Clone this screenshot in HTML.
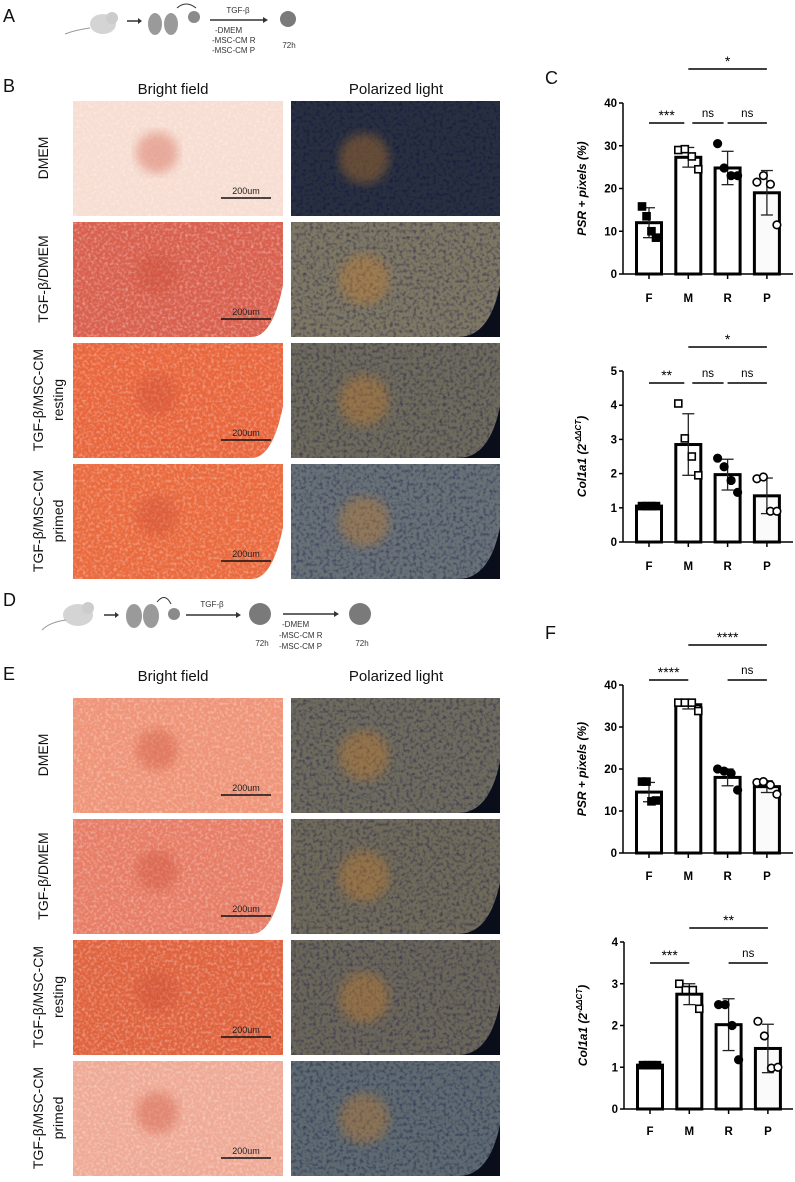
<!DOCTYPE html>
<html><head><meta charset="utf-8">
<style>
html,body{margin:0;padding:0;background:#fff;}
svg{display:block;font-family:"Liberation Sans",Arial,sans-serif;}
</style></head>
<body>
<svg id="fig" width="795" height="1182" viewBox="0 0 795 1182" xmlns="http://www.w3.org/2000/svg">
<defs>
 <filter id="noise" x="0" y="0" width="100%" height="100%">
  <feTurbulence type="fractalNoise" baseFrequency="0.35" numOctaves="2" seed="3"/>
  <feColorMatrix type="matrix" values="0 0 0 0 1  0 0 0 0 1  0 0 0 0 1  0 0 0 1.6 -0.7"/>
 </filter>
 <filter id="noiseD" x="0" y="0" width="100%" height="100%">
  <feTurbulence type="fractalNoise" baseFrequency="0.3" numOctaves="2" seed="7"/>
  <feColorMatrix type="matrix" values="0 0 0 0 0  0 0 0 0 0  0 0 0 0 0.05  0 0 0 1.8 -0.8"/>
 </filter>
 <filter id="blur"><feGaussianBlur stdDeviation="5"/></filter>
</defs>

<g font-size="18" fill="#111">
 <text x="3" y="22">A</text>
 <text x="3" y="92">B</text>
 <text x="545" y="84">C</text>
 <text x="3" y="606">D</text>
 <text x="3" y="680">E</text>
 <text x="545" y="639">F</text>
</g>

<g id="schemA">
 <ellipse cx="103" cy="24" rx="13" ry="10" fill="#d4d4d4"/>
 <circle cx="112" cy="18" r="6" fill="#ccc"/>
 <path d="M90 28 Q75 30 65 34" stroke="#999" fill="none"/>
 <path d="M127 21 L140 21" stroke="#333" stroke-width="1.5"/><path d="M138 18 L142 21 L138 24Z" fill="#333"/>
 <ellipse cx="155" cy="24" rx="7" ry="11" fill="#9a9a9a"/>
 <ellipse cx="171" cy="24" rx="7" ry="11" fill="#9a9a9a"/>
 <circle cx="194" cy="17" r="6" fill="#8a8a8a"/>
 <path d="M177 8 Q186 0 196 8" stroke="#333" fill="none"/>
 <text x="238" y="13" font-size="8" fill="#333" text-anchor="middle">TGF-β</text>
 <path d="M210 20 L265 20" stroke="#333" stroke-width="1.5"/><path d="M263 17 L268 20 L263 23Z" fill="#333"/>
 <text x="215" y="33" font-size="8" fill="#333">-DMEM</text>
 <text x="212" y="43" font-size="8" fill="#333">-MSC-CM R</text>
 <text x="212" y="53" font-size="8" fill="#333">-MSC-CM P</text>
 <circle cx="288" cy="19" r="8" fill="#7a7a7a"/>
 <text x="289" y="48" font-size="8" fill="#333" text-anchor="middle">72h</text>
</g>

<g>
 <ellipse cx="78" cy="615" rx="15" ry="11" fill="#d4d4d4"/>
 <circle cx="88" cy="608" r="6" fill="#ccc"/>
 <path d="M66 620 Q50 622 42 630" stroke="#999" fill="none"/>
 <path d="M104 615 L117 615" stroke="#333" stroke-width="1.5"/><path d="M115 612 L119 615 L115 618Z" fill="#333"/>
 <ellipse cx="134" cy="616" rx="8" ry="12" fill="#9a9a9a"/>
 <ellipse cx="151" cy="616" rx="8" ry="12" fill="#9a9a9a"/>
 <circle cx="174" cy="614" r="6" fill="#8a8a8a"/>
 <path d="M157 602 Q165 592 171 604" stroke="#333" fill="none"/>
 <text x="212" y="607" font-size="8" fill="#333" text-anchor="middle">TGF-β</text>
 <path d="M186 615 L238 615" stroke="#333" stroke-width="1.5"/><path d="M236 612 L241 615 L236 618Z" fill="#333"/>
 <circle cx="260" cy="614" r="11" fill="#7a7a7a"/>
 <text x="262" y="646" font-size="8" fill="#333" text-anchor="middle">72h</text>
 <path d="M283 614 L336 614" stroke="#333" stroke-width="1.5"/><path d="M334 611 L339 614 L334 617Z" fill="#333"/>
 <text x="282" y="627" font-size="8" fill="#333">-DMEM</text>
 <text x="279" y="638" font-size="8" fill="#333">-MSC-CM R</text>
 <text x="279" y="649" font-size="8" fill="#333">-MSC-CM P</text>
 <circle cx="360" cy="614" r="11" fill="#7a7a7a"/>
 <text x="362" y="646" font-size="8" fill="#333" text-anchor="middle">72h</text>
</g>

<g font-size="15" fill="#111" text-anchor="middle">
 <text x="173" y="94">Bright field</text>
 <text x="396" y="94">Polarized light</text>
 <text x="173" y="681">Bright field</text>
 <text x="396" y="681">Polarized light</text>
</g>

<g id="images"></g>
<g id="charts"></g>
</svg>

<script>
var NS = "http://www.w3.org/2000/svg";
function mk(tag, attrs, parent){ var e=document.createElementNS(NS,tag); for (var k in attrs) e.setAttribute(k, attrs[k]); parent.appendChild(e); return e; }

var categories = ["F","M","R","P"];
var c1Means = [12, 27.3, 24.8, 19];
var c1Sd = [3.5, 2.3, 3.9, 5.2];
var c1Points = [[15.8,13.5,10,8.5],[29,29.2,27.5,24.5],[30.5,24.8,23,23],[21.5,23,21,11.5]];
var c1Ticks = [0,10,20,30,40];
var c2Means = [1.05, 2.85, 1.97, 1.35];
var c2Sd = [0.05, 0.9, 0.45, 0.52];
var c2Points = [[1.05,1.05,1.05,1.05],[4.05,3.03,2.5,1.95],[2.45,2.2,1.8,1.45],[1.85,1.9,0.9,0.9]];
var c2Ticks = [0,1,2,3,4,5];
var f1Means = [14.5, 35.3, 18, 15.8];
var f1Sd = [2.3, 1.0, 2.0, 1.4];
var f1Points = [[17,17,12.3,12.5],[35.8,35.8,35.8,33.8],[20,19.5,19,15],[16.8,17,16.2,14]];
var f1Ticks = [0,10,20,30,40];
var f2Means = [1.05, 2.75, 2.02, 1.45];
var f2Sd = [0.05, 0.25, 0.62, 0.58];
var f2Points = [[1.05,1.05,1.05,1.05],[3.0,2.85,2.85,2.4],[2.5,2.5,2.0,1.18],[2.1,1.75,0.98,1.0]];
var f2Ticks = [0,1,2,3,4];
var c1Sig = [["M","P","*"],["F","M","***"],["M","R","ns"],["R","P","ns"]];
var c2Sig = [["M","P","*"],["F","M","**"],["M","R","ns"],["R","P","ns"]];
var f1Sig = [["M","P","****"],["F","M","****"],["R","P","ns"]];
var f2Sig = [["M","P","**"],["F","M","***"],["R","P","ns"]];

var markerKind = ["sq-fill","sq-open","ci-fill","ci-open"];
var jitter = [-10,-3.5,3.5,10];

function drawChart(o){
  var root = document.getElementById("charts");
  var g = mk("g",{},root);
  
  
  var axX = o.axX, y0 = o.y0, yTop = o.yTop, vmax = o.ticks[o.ticks.length-1];
  function Y(v){ return y0 - (v/vmax)*(y0-yTop); }
  function X(i){ return axX + 26 + i*39.3; }
  for (var i=0;i<categories.length;i++){
    var b = mk("rect",{x:X(i)-12.5,y:Y(o.means[i]),width:25,height:y0-Y(o.means[i]),fill:i==3?"#fafafa":"#fff",stroke:"#000","stroke-width":3},g);
    
    
  }
  for (var i=0;i<categories.length;i++){
    var e = mk("g",{stroke:"#222","stroke-width":1.3},g);
    
    
    var hi=Y(o.means[i]+o.sd[i]), lo=Y(o.means[i]-o.sd[i]);
    mk("line",{x1:X(i),x2:X(i),y1:hi,y2:lo},e);
    mk("line",{x1:X(i)-6,x2:X(i)+6,y1:hi,y2:hi},e);
    mk("line",{x1:X(i)-6,x2:X(i)+6,y1:lo,y2:lo},e);
  }
  for (var i=0;i<categories.length;i++){
    for (var j=0;j<o.points[i].length;j++){
      var px = X(i)+jitter[j]*(i==0?0.7:1), py = Y(o.points[i][j]), k = markerKind[i], p;
      if (k[0]=="s") p = mk("rect",{x:px-3.5,y:py-3.5,width:7,height:7,fill:k=="sq-fill"?"#000":"#fff",stroke:"#000","stroke-width":1.6},g);
      else p = mk("circle",{cx:px,cy:py,r:3.8,fill:k=="ci-fill"?"#000":"#fff",stroke:"#000","stroke-width":1.6},g);
      
      
    }
  }
  var ax = mk("g",{stroke:"#000","stroke-width":1.5,fill:"none"},g);
  
  
  mk("line",{x1:axX,x2:axX,y1:yTop,y2:y0},ax);
  mk("line",{x1:axX,x2:793,y1:y0,y2:y0},ax);
  for (var t=0;t<o.ticks.length;t++){
    mk("line",{x1:axX-4,x2:axX,y1:Y(o.ticks[t]),y2:Y(o.ticks[t])},ax);
    var tl = mk("text",{x:axX-6,y:Y(o.ticks[t])+4,"font-size":11.5,"font-weight":"bold","text-anchor":"end",fill:"#000",stroke:"none"},g);
    tl.textContent = o.ticks[t];
    
    
  }
  for (var i=0;i<categories.length;i++){
    mk("line",{x1:X(i),x2:X(i),y1:y0,y2:y0+5},ax);
    var cl = mk("text",{x:X(i),y:o.labY,"font-size":11.5,"font-weight":"bold","text-anchor":"middle",fill:"#000"},g);
    cl.textContent = categories[i];
    
    
  }
  var ty = (y0+yTop)/2, tt = mk("text",{x:0,y:0,"font-size":12,"font-weight":"bold","font-style":"italic","text-anchor":"middle",transform:"translate("+(axX-37)+","+ty+") rotate(-90)"},g);
  
  
  if (o.col){
    tt.appendChild(document.createTextNode("Col1a1 (2"));
    var sup = mk("tspan",{"font-size":8,dy:-5},tt); sup.textContent="-ΔΔCT";
    var cl2 = mk("tspan",{dy:5},tt); cl2.textContent=")";
  } else tt.textContent = "PSR + pixels (%)";
  for (var s=0;s<o.sig.length;s++){
    var a=categories.indexOf(o.sig[s][0]), b=categories.indexOf(o.sig[s][1]);
    var top = s==0, ly = top ? o.sigTop : o.sigRow;
    var xa = X(a)+(top?0:(a==1 && o.sig.length==4 ? 4:0)), xb = X(b)-(top?0:(o.sig.length==4 && (b==1||b==2)?4:0));
    var sg = mk("g",{},g);
    
    
    mk("line",{x1:xa,x2:xb,y1:ly,y2:ly,stroke:"#000","stroke-width":1.6},sg);
    var st = mk("text",{x:(xa+xb)/2,y:ly-(o.sig[s][2]=="ns"?6:3),"font-size":o.sig[s][2]=="ns"?11.5:14,"text-anchor":"middle",fill:"#000"},sg);
    st.textContent = o.sig[s][2];
  }
}
drawChart({name:"chart-c-psr",axX:623,y0:274,yTop:103,ticks:c1Ticks,means:c1Means,sd:c1Sd,points:c1Points,labY:302,sig:c1Sig,sigTop:69,sigRow:123});
drawChart({name:"chart-c-col1a1",axX:623,y0:542,yTop:371,ticks:c2Ticks,means:c2Means,sd:c2Sd,points:c2Points,labY:570,sig:c2Sig,sigTop:347,sigRow:383,col:true});
drawChart({name:"chart-f-psr",axX:623,y0:853,yTop:685,ticks:f1Ticks,means:f1Means,sd:f1Sd,points:f1Points,labY:880,sig:f1Sig,sigTop:645,sigRow:680});
drawChart({name:"chart-f-col1a1",axX:624,y0:1109,yTop:942,ticks:f2Ticks,means:f2Means,sd:f2Sd,points:f2Points,labY:1135,sig:f2Sig,sigTop:928,sigRow:963,col:true});

var imgG = document.getElementById("images");
var rowNames = [["DMEM"],["TGF-β/DMEM"],["TGF-β/MSC-CM","resting"],["TGF-β/MSC-CM","primed"]];
var bfColors = ["#f7ddd2","#d9604e","#e9663d","#ea6a3e","#ef9478","#e77d66","#e0633f","#efaa96"];
var plColors = ["#283040","#7d7764","#6e6a5c","#687176","#6e6b5e","#6f6a5a","#6b665a","#5e6a70"];
function panel(x,y,w,h,color,dark,idx,kind){
  var g = mk("g",{},imgG);
  
  
  mk("rect",{x:x,y:y,width:w,height:h,fill:color},g);
  mk("rect",{x:x,y:y,width:w,height:h,filter:dark?"url(#noiseD)":"url(#noise)",opacity:0.55},g);
  if (!dark){
    mk("ellipse",{cx:x+w*0.4,cy:y+h*0.45,rx:w*0.1,ry:h*0.18,fill:"#c94a30",opacity:0.35,filter:"url(#blur)"},g);
    if (idx==1||idx==2||idx==3||idx==5) mk("path",{d:"M"+(x+w)+" "+(y+h*0.55)+" Q"+(x+w*0.95)+" "+(y+h)+" "+(x+w*0.85)+" "+(y+h)+" L"+(x+w)+" "+(y+h)+"Z",fill:"#fff"},g);
    var sb = mk("g",{},g);
    
    
    mk("line",{x1:x+w-62,x2:x+w-12,y1:y+h-18,y2:y+h-18,stroke:"#111","stroke-width":1.5},sb);
    var t = mk("text",{x:x+w-37,y:y+h-22,"font-size":9,"text-anchor":"middle",fill:"#222"},sb);
    t.textContent = "200um";
  } else {
    mk("ellipse",{cx:x+w*0.35,cy:y+h*0.5,rx:w*0.12,ry:h*0.22,fill:"#d8862a",opacity:0.35,filter:"url(#blur)"},g);
    if (idx!=0) mk("path",{d:"M"+(x+w)+" "+(y+h*0.55)+" Q"+(x+w*0.95)+" "+(y+h)+" "+(x+w*0.8)+" "+(y+h)+" L"+(x+w)+" "+(y+h)+"Z",fill:"#0a0e1a"},g);
  }
}
var tops = [101,222,343,464,698,819,940,1061];
for (var r=0;r<8;r++){
  panel(73,tops[r],210,115,bfColors[r],false,r,"bright-field");
  panel(291,tops[r],209,115,plColors[r],true,r,"polarized");
  var nm = rowNames[r%4], cy = tops[r]+57;
  for (var l=0;l<nm.length;l++){
    var lx = nm.length==1 ? 48 : (l==0?43:63);
    var t = mk("text",{x:0,y:0,"font-size":14,"text-anchor":"middle",fill:"#111",transform:"translate("+lx+","+cy+") rotate(-90)"},imgG);
    t.textContent = nm[l];
    
    
  }
}
</script>
</body></html>
